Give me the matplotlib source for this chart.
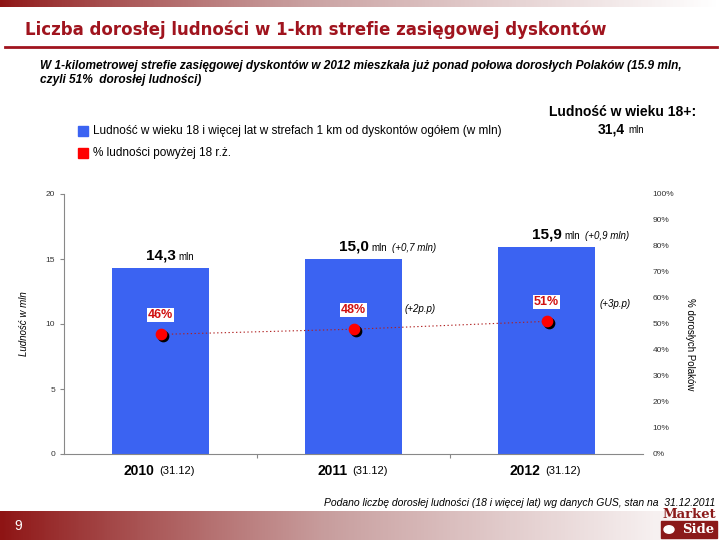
import numpy as np
import matplotlib
matplotlib.use("Agg")
import matplotlib.pyplot as plt
from matplotlib.patches import Rectangle, Circle
from matplotlib.colors import LinearSegmentedColormap

# data
years = ["2010", "2011", "2012"]
dates = ["(31.12)", "(31.12)", "(31.12)"]
population = [14.3, 15.0, 15.9]          # mln
pop_labels = ["14,3", "15,0", "15,9"]
pop_change = ["", "(+0,7 mln)", "(+0,9 mln)"]
share = [46, 48, 51]                      # % of adults
share_labels = ["46%", "48%", "51%"]
share_change = ["(+2p.p)", "(+3p.p)"]
left_ticks = [0, 5, 10, 15, 20]
right_ticks = list(range(0, 101, 10))

BLUE = "#3B63F2"
RED = "#FF0000"
DARK_RED = "#A0141E"
LOGO_RED = "#8B1A1A"
NARROW = ["Liberation Sans Narrow", "Liberation Sans", "DejaVu Sans"]

plt.rcParams["font.family"] = ["Liberation Sans", "DejaVu Sans"]

fig = plt.figure(figsize=(7.2, 5.4), dpi=100)
W, H = 720.0, 540.0


def fx(px):
    return px / W


def fy(py):
    return 1 - py / H


# gradient bands top and bottom
grad = LinearSegmentedColormap.from_list("band", ["#8E1414", "#C9A0A0", "#FFFFFF"])
top = fig.add_axes([0, fy(7), 1, 7 / H])
top.imshow(np.linspace(0, 1, 256)[None, :] ** 0.8, aspect="auto", cmap=grad,
           extent=[0, 1, 0, 1])
top.axis("off")
bot = fig.add_axes([0, 0, 1, 29 / H])
bot.imshow(np.linspace(0, 1, 256)[None, :] ** 0.9, aspect="auto", cmap=grad,
           extent=[0, 1, 0, 1])
bot.axis("off")
fig.text(fx(18), fy(526), "9", color="white", fontsize=10, ha="center", va="center")

# title block
fig.text(fx(25), fy(30), "Liczba dorosłej ludności w 1-km strefie zasięgowej dyskontów",
         color=DARK_RED, fontsize=12, weight="bold", family="DejaVu Sans", va="center")
fig.add_artist(plt.Line2D([fx(5), fx(717)], [fy(47), fy(47)], color=DARK_RED, lw=2))
fig.text(fx(40), fy(66), "W 1-kilometrowej strefie zasięgowej dyskontów w 2012 mieszkała już ponad połowa "
         "dorosłych Polaków (15.9 mln,", fontsize=8.6, style="italic", weight="bold",
         family=NARROW, va="center")
fig.text(fx(40), fy(80), "czyli 51%  dorosłej ludności)", fontsize=8.6, style="italic",
         weight="bold", family=NARROW, va="center")

# legend
fig.add_artist(Rectangle((fx(78), fy(136)), 10 / W, 10 / H, color=BLUE))
fig.text(fx(93), fy(131), "Ludność w wieku 18 i więcej lat w strefach 1 km od dyskontów ogółem (w mln)",
         fontsize=8.5, family=NARROW, va="center")
fig.add_artist(Rectangle((fx(78), fy(158)), 10 / W, 10 / H, color=RED))
fig.text(fx(93), fy(153), "% ludności powyżej 18 r.ż.", fontsize=8.5, family=NARROW, va="center")

fig.text(fx(623), fy(112), "Ludność w wieku 18+:", fontsize=10, weight="bold", ha="center", va="center")
fig.text(fx(625), fy(129), "31,4", fontsize=10, weight="bold", ha="right", va="center")
fig.text(fx(628), fy(130), "mln", fontsize=7, ha="left", va="center")

# main chart
ax = fig.add_axes([fx(64), fy(454), (643 - 64) / W, (454 - 194) / H])
x = np.arange(len(years))
ax.bar(x, population, width=0.5, color=BLUE, zorder=2)
ax.set_xlim(-0.5, 2.5)
ax.set_ylim(0, 20)
ax.set_yticks(left_ticks)
ax.set_yticklabels([str(t) for t in left_ticks], fontsize=6, color="#333333")
ax.set_xticks([0.5, 1.5])
ax.set_xticklabels([])
ax.tick_params(axis="both", length=3, color="#888888")
for s in ["top", "right"]:
    ax.spines[s].set_visible(False)
for s in ["left", "bottom"]:
    ax.spines[s].set_color("#888888")
ax.set_ylabel("Ludność w mln", fontsize=7, style="italic")
ax.yaxis.set_label_coords(-0.06, 0.5)

for i in range(len(years)):
    ax.annotate(pop_labels[i], (x[i], population[i]), xytext=(0, 9), textcoords="offset points",
                ha="center", va="center", fontsize=11, weight="bold")
    ax.annotate("mln", (x[i] + 0.095, population[i]), xytext=(0, 8), textcoords="offset points",
                ha="left", va="center", fontsize=7)
    if pop_change[i]:
        ax.annotate(pop_change[i], (x[i] + 0.2, population[i]), xytext=(0, 8),
                    textcoords="offset points", ha="left", va="center", fontsize=7, style="italic")
    ax.annotate(years[i], (x[i] - 0.03, 0), xycoords=("data", "axes fraction"), xytext=(0, -12),
                textcoords="offset points", ha="right", va="center", fontsize=10, weight="bold")
    ax.annotate(dates[i], (x[i] - 0.005, 0), xycoords=("data", "axes fraction"), xytext=(0, -12),
                textcoords="offset points", ha="left", va="center", fontsize=8)

# percent on right axis
ax2 = ax.twinx()
ax2.set_ylim(0, 100)
ax2.set_yticks(right_ticks)
ax2.set_yticklabels([f"{t}%" for t in right_ticks], fontsize=6, color="#333333")
ax2.tick_params(axis="y", length=0, pad=7)
for s in ["top", "right", "left", "bottom"]:
    ax2.spines[s].set_visible(False)
ax2.plot(x, share, linestyle=(0, (1.2, 2.2)), color="#B02020", lw=0.8, zorder=3)
ax2.scatter(x + 0.012, np.array(share) - 0.8, s=55, color="black", zorder=4)
ax2.scatter(x, share, s=55, color=RED, zorder=5)
for i in range(len(years)):
    ax2.annotate(share_labels[i], (x[i], share[i]), xytext=(0, 14), textcoords="offset points",
                 ha="center", va="center", fontsize=9, weight="bold", color="#D01010",
                 bbox=dict(boxstyle="square,pad=0.1", fc="white", ec="none"), zorder=6)
ax2.text(1.345, 55.8, share_change[0], fontsize=7, style="italic", ha="center", va="center")
ax2.text(2.355, 57.7, share_change[1], fontsize=7, style="italic", ha="center", va="center")

fig.text(fx(690), fy(344), "% dorosłych Polaków", fontsize=7, rotation=-90, ha="center", va="center")

# footer
fig.text(fx(715), fy(503), "Podano liczbę dorosłej ludności (18 i więcej lat) wg danych GUS, stan na  31.12.2011",
         fontsize=7.5, style="italic", family=NARROW, ha="right", va="center")

# logo
fig.text(fx(716), fy(515), "Market", fontsize=9.5, weight="bold", family="DejaVu Serif",
         color=LOGO_RED, ha="right", va="center")
fig.add_artist(Rectangle((fx(661), fy(538)), 56 / W, 17 / H, color=LOGO_RED))
fig.text(fx(714), fy(529.5), "Side", fontsize=9.5, weight="bold", family="DejaVu Serif",
         color="white", ha="right", va="center")
fig.add_artist(Circle((fx(669), fy(529.5)), 5 / W, color="white"))

fig.savefig("out.png", dpi=100)
